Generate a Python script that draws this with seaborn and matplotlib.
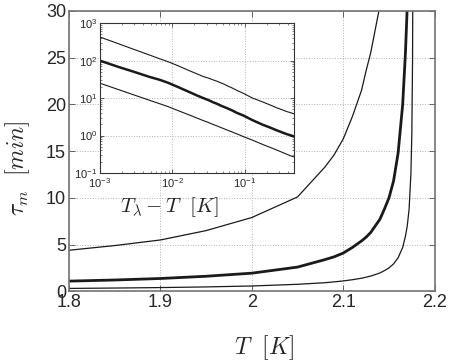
import numpy as np
import pandas as pd
import matplotlib
matplotlib.use('Agg')
import matplotlib.pyplot as plt
import seaborn as sns

# lambda point of helium
T_lambda = 2.1768

# temperatures [K] and time constants [min]
T_K = [1.70, 1.75, 1.80, 1.85, 1.90, 1.95, 2.00, 2.05, 2.08, 2.09, 2.10, 2.11, 2.12,
       2.125, 2.13, 2.135, 2.14, 2.145, 2.15, 2.155, 2.16, 2.165, 2.168, 2.170,
       2.172, 2.174, 2.175, 2.1758, 2.1763]
tau_upper = [3.8, 4.1, 4.4, 4.9, 5.5, 6.5, 7.9, 10.1, 13.3, 14.6, 16.3, 18.7, 21.5,
             23.6, 25.5, 28.0, 30.5, 34.0, 37.6, 44.5, 55, 74, 93, 111,
             142, 207, 283, 427, 690]
tau_mid = [0.95, 1.02, 1.10, 1.22, 1.38, 1.62, 1.95, 2.6, 3.4, 3.7, 4.1, 4.7, 5.4,
           5.8, 6.3, 7.0, 7.7, 8.8, 10.0, 11.8, 14.8, 20.0, 25.5, 30.5,
           37, 52, 68, 100, 157]
tau_lower = [0.27, 0.29, 0.32, 0.36, 0.41, 0.48, 0.58, 0.76, 0.93, 1.02, 1.12, 1.25, 1.41,
             1.52, 1.64, 1.80, 1.97, 2.22, 2.51, 2.94, 3.6, 4.7, 5.9, 7.0,
             8.8, 12.6, 16.9, 25, 40]

x_ticks = [1.8, 1.9, 2.0, 2.1, 2.2]
x_ticklabels = ['1.8', '1.9', '2', '2.1', '2.2']
y_ticks = [0, 5, 10, 15, 20, 25, 30]

df = pd.DataFrame({'T': T_K, 'upper': tau_upper, 'mid': tau_mid, 'lower': tau_lower})
df['dT'] = T_lambda - df['T']

sns.set_theme(style='ticks')
plt.rcParams['font.family'] = ['Liberation Sans', 'DejaVu Sans']
plt.rcParams['mathtext.fontset'] = 'cm'
plt.rcParams['xtick.direction'] = 'in'
plt.rcParams['ytick.direction'] = 'in'

fig = plt.figure(figsize=(4.5, 3.62), dpi=100)
ax = fig.add_axes([0.153, 0.195, 0.813, 0.775])

# main plot
for col, lw in [('upper', 0.9), ('mid', 2.0), ('lower', 0.9)]:
    sns.lineplot(data=df, x='T', y=col, ax=ax, color='k', linewidth=lw)

ax.set_xlim(1.8, 2.2)
ax.set_ylim(0, 30)
ax.set_xticks(x_ticks)
ax.set_xticklabels(x_ticklabels)
ax.set_yticks(y_ticks)
ax.tick_params(labelsize=13, length=4, width=0.6, top=True, right=True, pad=2, color='0.3')
ax.grid(True, linestyle=':', color='0.7', linewidth=0.7)
for s in ax.spines.values():
    s.set_color('0.45')
    s.set_linewidth(1.2)
ax.set_xlabel(r'$T\ \ [K]$', fontsize=17)
ax.set_ylabel(r'$\tau_m\ \ [min]$', fontsize=17)
ax.xaxis.set_label_coords(0.533, -0.148)
ax.yaxis.set_label_coords(-0.10, 0.44)

# inset: log-log against distance from the lambda point
axi = fig.add_axes([0.222, 0.522, 0.431, 0.414])
axi.set_facecolor('white')
for col, lw in [('upper', 0.8), ('mid', 1.8), ('lower', 0.8)]:
    sns.lineplot(data=df, x='dT', y=col, ax=axi, color='k', linewidth=lw)
axi.set_xscale('log')
axi.set_yscale('log')
axi.set_xlim(1e-3, df['dT'].max())
axi.set_ylim(1e-1, 1e3)
axi.set_xticks([1e-3, 1e-2, 1e-1])
axi.set_yticks([1e-1, 1e0, 1e1, 1e2, 1e3])
axi.tick_params(which='both', labelsize=8, top=True, right=True, pad=2)
axi.tick_params(which='major', length=3, width=0.5)
axi.tick_params(which='minor', length=1.5, width=0.4)
axi.grid(True, which='major', linestyle=':', color='0.7', linewidth=0.7)
for s in axi.spines.values():
    s.set_color('0.2')
    s.set_linewidth(0.8)
axi.set_xlabel(r'$T_\lambda - T\ \ [K]$', fontsize=15)
axi.set_ylabel('')
axi.xaxis.set_label_coords(0.36, -0.15)

fig.savefig('out.png', dpi=100)
